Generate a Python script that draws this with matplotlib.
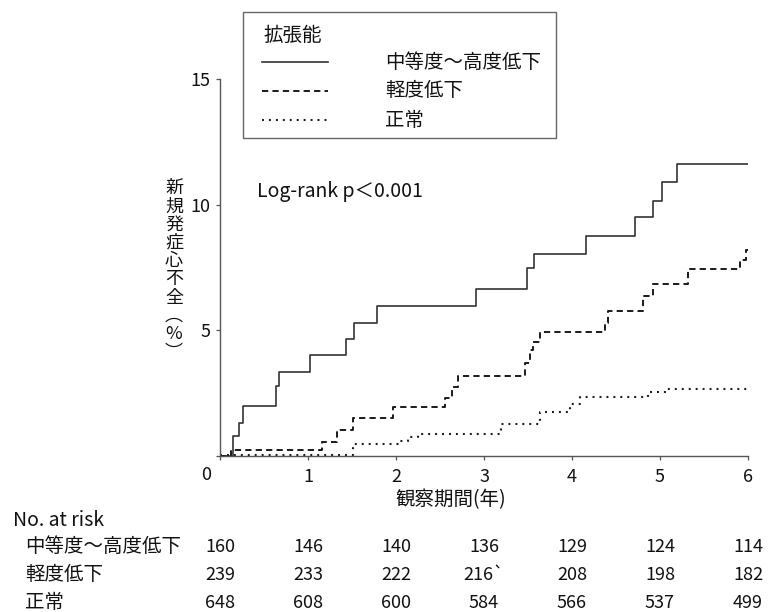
import matplotlib
matplotlib.use('Agg')
import matplotlib.pyplot as plt
from matplotlib.lines import Line2D
from matplotlib.patches import Rectangle

plt.rcParams['font.family'] = ['Noto Sans CJK JP', 'DejaVu Sans']
plt.rcParams['lines.scale_dashes'] = False

# ---- data -------------------------------------------------------------
legend_title = '拡張能'
groups = ['中等度〜高度低下', '軽度低下', '正常']

# cumulative incidence of new-onset heart failure (%), step curves
severe_t = [0, 0.15, 0.22, 0.26, 0.64, 0.67, 1.02, 1.43, 1.52, 1.78, 2.91,
            3.49, 3.57, 4.16, 4.72, 4.92, 5.02, 5.19, 6.0]
severe_y = [0, 0.8, 1.3, 2.0, 2.8, 3.35, 4.0, 4.65, 5.3, 5.95, 6.65,
            7.5, 8.05, 8.77, 9.5, 10.16, 10.9, 11.6, 11.6]

mild_t = [0, 0.13, 1.16, 1.33, 1.51, 1.97, 2.56, 2.64, 2.70, 3.47, 3.52,
          3.56, 3.64, 4.38, 4.41, 4.81, 4.92, 5.32, 5.91, 5.98, 6.0]
mild_y = [0, 0.24, 0.56, 1.03, 1.5, 1.94, 2.3, 2.75, 3.2, 3.7, 4.2,
          4.53, 4.94, 5.3, 5.78, 6.37, 6.85, 7.45, 7.8, 8.2, 8.2]

normal_t = [0, 1.51, 2.05, 2.14, 2.25, 3.19, 3.64, 3.98, 4.09, 4.86, 5.08, 6.0]
normal_y = [0.04, 0.48, 0.6, 0.77, 0.87, 1.27, 1.75, 2.07, 2.35, 2.55, 2.67, 2.67]

x_ticks = [0, 1, 2, 3, 4, 5, 6]
y_ticks = [0, 5, 10, 15]

risk_times = [0, 1, 2, 3, 4, 5, 6]
risk_severe = ['160', '146', '140', '136', '129', '124', '114']
risk_mild = ['239', '233', '222', '216`', '208', '198', '182']
risk_normal = ['648', '608', '600', '584', '566', '537', '499']

x_label = '観察期間(年)'
y_label = '新規発症心不全︵%︶'
stat_text = 'Log-rank p＜0.001'

# ---- figure -----------------------------------------------------------
W, H = 768, 612
fig = plt.figure(figsize=(W / 100, H / 100), dpi=100)
fx = lambda x: x / W
fy = lambda y: 1 - y / H

ax = fig.add_axes([fx(220), fy(456), 528 / W, 377 / H])

styles = [
    dict(color='#333333', lw=1.2, linestyle='-'),
    dict(color='#1a1a1a', lw=1.4, dashes=(4.5, 3.0)),
    dict(color='#1a1a1a', lw=1.5, dashes=(1.4, 3.6)),
]
series = [(severe_t, severe_y), (mild_t, mild_y), (normal_t, normal_y)]
for (t, y), st in zip(series, styles):
    ax.step(t, y, where='post', **st)

ax.set_xlim(0, 6)
ax.set_ylim(0, 15)
ax.set_xticks(x_ticks)
ax.set_xticklabels([''] + [str(v) for v in x_ticks[1:]])
ax.set_yticks(y_ticks)
ax.set_yticklabels([''] + [str(v) for v in y_ticks[1:]])
for s in ('top', 'right'):
    ax.spines[s].set_visible(False)
for s in ('left', 'bottom'):
    ax.spines[s].set_color('#555555')
    ax.spines[s].set_linewidth(1.0)
ax.tick_params(direction='out', length=3, width=0.9, color='#555555',
               labelsize=13, labelcolor='#111111')
ax.tick_params(axis='x', pad=6)
ax.tick_params(axis='y', pad=4)

# shared origin label
ax.annotate('0', xy=(0, 0), xytext=(-10, -14), textcoords='offset points',
            ha='center', va='center', fontsize=13, color='#111111')

# axis titles
ax.set_xlabel(x_label, fontsize=14, color='#111111')
ax.xaxis.set_label_coords((451 - 220) / 528, (456 - 500) / 377)
ax.xaxis.label.set_va('center')

y0, dy = 188, 18.3
for i, ch in enumerate(y_label):
    fig.text(fx(174), fy(y0 + i * dy), ch, ha='center', va='center',
             fontsize=13, color='#111111')

ax.text(fx(257), fy(192), stat_text, transform=fig.transFigure,
        ha='left', va='center', fontsize=14, color='#111111')

# legend box
fig.patches.append(Rectangle((fx(243), fy(138)), fx(556) - fx(243), fy(12) - fy(138),
                             transform=fig.transFigure, fill=False,
                             edgecolor='#666666', lw=1.0))
fig.text(fx(263), fy(35), legend_title, ha='left', va='center',
         fontsize=14, color='#111111')
for i, (name, st) in enumerate(zip(groups, styles)):
    yy = fy(62 + i * 29)
    kw = {k: v for k, v in st.items() if k != 'lw'}
    fig.lines.append(Line2D([fx(262), fx(328)], [yy, yy], transform=fig.transFigure,
                            linewidth=st['lw'], **kw))
    fig.text(fx(385), yy, name, ha='left', va='center', fontsize=14, color='#111111')

# number-at-risk table
fig.text(fx(13), fy(520), 'No. at risk', ha='left', va='center',
         fontsize=14, color='#111111')
for i, (name, counts) in enumerate(zip(groups, [risk_severe, risk_mild, risk_normal])):
    yy = fy(547 + i * 28)
    fig.text(fx(25), yy, name, ha='left', va='center', fontsize=14, color='#111111')
    for t, c in zip(risk_times, counts):
        xx = ax.transData.transform((t, 0))[0] / W
        fig.text(xx, yy, c, ha='center', va='center', fontsize=13, color='#111111')

fig.savefig('out.png', dpi=100)
